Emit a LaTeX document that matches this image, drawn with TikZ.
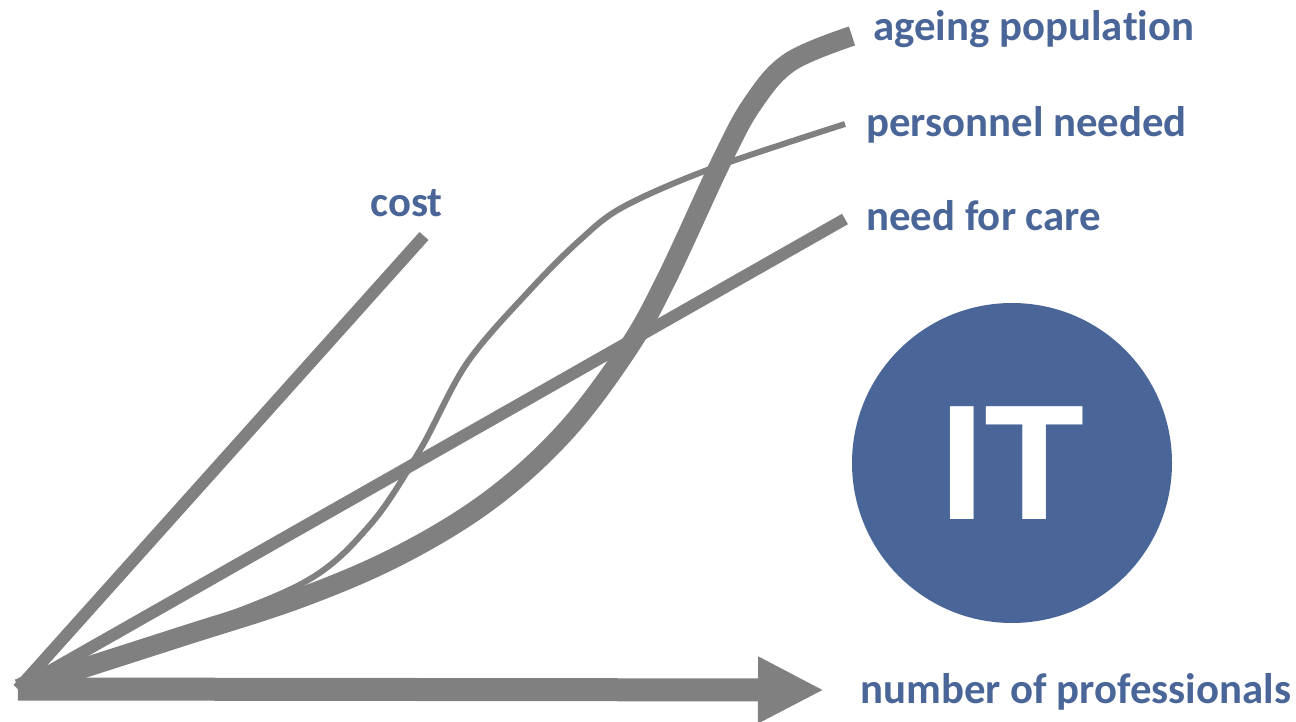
\documentclass[tikz,border=0pt]{standalone}
\usepackage{fontspec}
\setmainfont{Carlito}[Ligatures=NoCommon]
\newfontfamily\itfont{Liberation Sans}
\usetikzlibrary{arrows.meta}
\definecolor{labelblue}{RGB}{74,102,152}
\definecolor{curvegray}{RGB}{128,128,128}
\begin{document}
\begin{tikzpicture}[x=0.5pt, y=-0.5pt,
        curve/.style={draw=curvegray, line cap=butt, line join=round},
        curvelabel/.style={anchor=base west, inner sep=0pt, text=labelblue,
            font=\fontsize{21.4}{25}\selectfont\bfseries}]
        \useasboundingbox (0,0) rectangle (1296,722);

        % the common start of all curves and their end points
        \coordinate (O) at (18,689);
        \coordinate (costend) at (424,236);
        \coordinate (careend) at (845,219);
        \coordinate (staffend) at (845,124);
        \coordinate (ageend) at (852,36);
        \coordinate (axisend) at (824,690);

        % the straight lines for cost and need for care
        \draw[curve, line width=6pt] (O) -- (careend);
        \draw[curve, line width=6pt] (O) -- (costend);

        % the thin curve for personnel needed
        \draw[curve, line width=3pt] plot[smooth, tension=0.55] coordinates {
            (O) (160,640) (303,583) (370,525) (420,450) (467,363)
            (530,290) (580,240) (623,207) (710,169) (staffend)};

        % the thick curve for ageing population
        \draw[curve, line width=10pt] plot[smooth, tension=0.6] coordinates {
            (O) (180,637) (300,598) (400,555) (490,500) (565,432) (627,350)
            (666,280) (722,160) (753,103) (790,62) (ageend)};

        % the axis arrow
        \draw[curve, line width=11.5pt, -{Triangle[length=33pt, width=31pt]}]
            (O) -- (axisend);

        % the labels at the ends of the curves
        \node[curvelabel] (agelabel) at (873,41) {ageing popula\kern0pt tion};
        \node[curvelabel] (stafflabel) at (866,137) {personnel needed};
        \node[curvelabel] (carelabel) at (866,230) {need for care};
        \node[curvelabel] (costlabel) at (370,216) {cost};
        \node[curvelabel] (axislabel) at (860,703) {number of professionals};

        % the IT circle
        \node[circle, fill=labelblue, minimum size=160pt, inner sep=0pt, text=white,
            font=\itfont\fontsize{82}{82}\selectfont\bfseries] (itcircle) at (1012,463) {IT};
\end{tikzpicture}
\end{document}
